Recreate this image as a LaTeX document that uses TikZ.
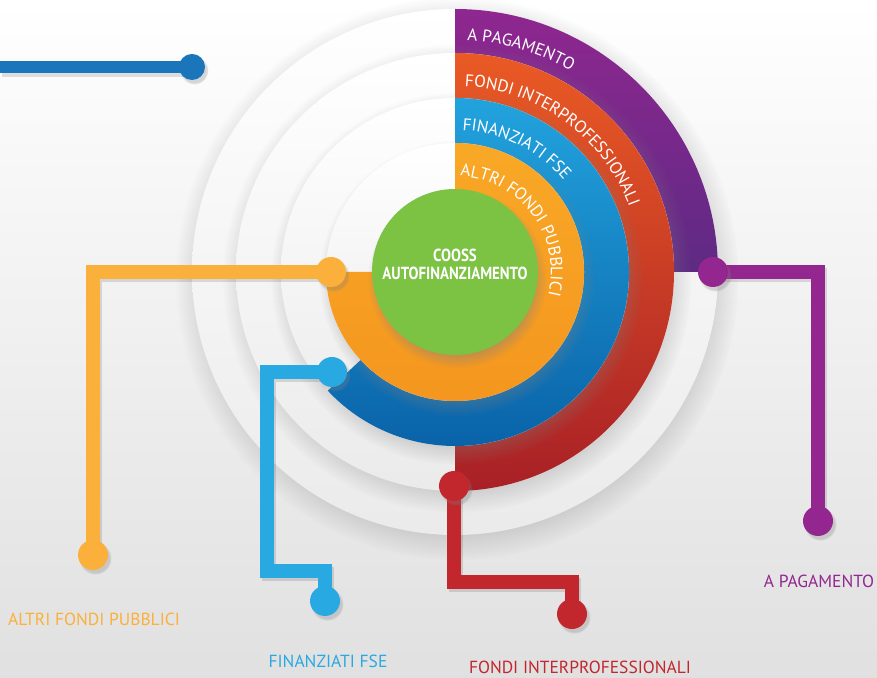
\documentclass[tikz,border=0pt]{standalone}
\usepackage{fontspec}
\usetikzlibrary{shadows,decorations.text,fadings}
\setmainfont{PT Sans}
\newfontfamily\gfont[FakeStretch=0.85]{PT Sans}
\definecolor{cOrange}{HTML}{FBB03B}
\definecolor{cOrangeTop}{HTML}{F9A826}
\definecolor{cOrangeBot}{HTML}{F4961F}
\definecolor{cSky}{HTML}{29A9E1}
\definecolor{cBlueTop}{HTML}{22A3DD}
\definecolor{cBlueBot}{HTML}{0A63A9}
\definecolor{cRed}{HTML}{C1272D}
\definecolor{cRedTop}{HTML}{EA5A25}
\definecolor{cRedMid}{HTML}{CD302B}
\definecolor{cRedBot}{HTML}{A82026}
\definecolor{cPurple}{HTML}{93278F}
\definecolor{cPurpleTop}{HTML}{8F2790}
\definecolor{cPurpleBot}{HTML}{5E2A84}
\definecolor{cGreen}{HTML}{7CC243}
\definecolor{cNavy}{HTML}{1B75BB}
\pgfdeclarelayer{front}
\pgfsetlayers{main,front}
\begin{document}
\begin{tikzpicture}[x=1pt,y=1pt,
  disk/.style={top color=white, bottom color=black!8,
    circular drop shadow={shadow scale=1.07, shadow xshift=2pt, shadow yshift=-6pt, opacity=0.4}},
  knob/.style={circle, fill=#1, minimum size=30pt, inner sep=0pt,
    circular drop shadow={shadow scale=1.1, shadow xshift=2pt, shadow yshift=-3pt, opacity=0.3}},
  wire/.style={draw=#1, line width=14pt,
    preaction={draw=black, opacity=0.12, line width=14pt, transform canvas={shift={(2pt,-3pt)}}}},
  ringtext/.style={decorate, decoration={text along path, text align=left, text color=white,
    text={|\fontsize{17}{17}\selectfont|#1}}},
  foot/.style={font=\fontsize{17.5}{18}\selectfont, text=#1, inner sep=0pt}
]
\useasboundingbox (0,0) rectangle (877,677);
\shade[top color=white, bottom color=black!12] (0,0) rectangle (877,677);

\begin{scope}[shift={(455,405)}]
  \path[disk] (0,0) circle[radius=263];
  \shade[top color=cPurpleTop, bottom color=cPurpleBot] (0,0) -- (90:263) arc[start angle=90, end angle=0, radius=263] -- cycle;
  \path[disk] (0,0) circle[radius=219];
  \shade[top color=cRedTop, middle color=cRedMid, bottom color=cRedBot] (0,0) -- (90:219) arc[start angle=90, end angle=-90, radius=219] -- cycle;
  \path[disk] (0,0) circle[radius=174];
  \shade[top color=cBlueTop, bottom color=cBlueBot] (0,0) -- (90:174) arc[start angle=90, end angle=-137, radius=174] -- cycle;
  \path[disk] (0,0) circle[radius=129];
  \shade[top color=cOrangeTop, bottom color=cOrangeBot] (0,0) -- (90:129) arc[start angle=90, end angle=-180, radius=129] -- cycle;
  \node[circle, fill=cGreen, minimum size=166pt, inner sep=0pt,
    circular drop shadow={shadow scale=1.08, shadow xshift=2pt, shadow yshift=-6pt, opacity=0.4}] (core) at (0,0) {};
  \node[text=white, align=center, inner sep=0pt, font=\gfont\bfseries\fontsize{17.5}{18}\selectfont] (coretext) at ([yshift=8pt]core.center) {COOSS\\AUTOFINANZIAMENTO};
  \path[ringtext={A PAGAMENTO}] (87:232) arc[start angle=87, end angle=20, radius=232];
  \path[ringtext={FONDI INTERPROFESSIONALI}] (87:186) arc[start angle=87, end angle=-10, radius=186];
  \path[ringtext={FINANZIATI FSE}] (87:142) arc[start angle=87, end angle=10, radius=142];
  \path[ringtext={ALTRI FONDI PUBBLICI}] (87:96) arc[start angle=87, end angle=-60, radius=96];
\end{scope}

\begin{pgfonlayer}{front}
  \node[knob=cNavy, minimum size=26pt] (navyend) at (192,610) {};
  \node[knob=cOrange] (ora) at (331,405) {};
  \node[knob=cOrange] (orb) at (93,122) {};
  \node[knob=cSky] (skya) at (332,305) {};
  \node[knob=cSky] (skyb) at (325,76) {};
  \node[knob=cRed] (reda) at (454,191) {};
  \node[knob=cRed] (redb) at (572,63) {};
  \node[knob=cPurple] (pura) at (713,405) {};
  \node[knob=cPurple] (purb) at (818,156) {};
\end{pgfonlayer}
\coordinate (navystart) at (0,610);
\coordinate (skybend) at (267,106);
\coordinate (redbend) at (454,95);

\draw[wire=cNavy, line width=12pt] (navystart) -- (navyend.center);
\draw[wire=cOrange] (ora.center) -| (orb.center);
\draw[wire=cSky] (skya.center) -| (skybend) -| (skyb.center);
\draw[wire=cRed] (reda.center) -- (redbend) -| (redb.center);
\draw[wire=cPurple] (pura.center) -| (purb.center);

\node[foot=cOrange] (lblorange) at (94,58) {ALTRI FONDI PUBBLICI};
\node[foot=cSky] (lblsky) at (328,16) {FINANZIATI FSE};
\node[foot=cRed] (lblred) at (580,10) {FONDI INTERPROFESSIONALI};
\node[foot=cPurple] (lblpurple) at (819,96) {A PAGAMENTO};
\end{tikzpicture}
\end{document}
